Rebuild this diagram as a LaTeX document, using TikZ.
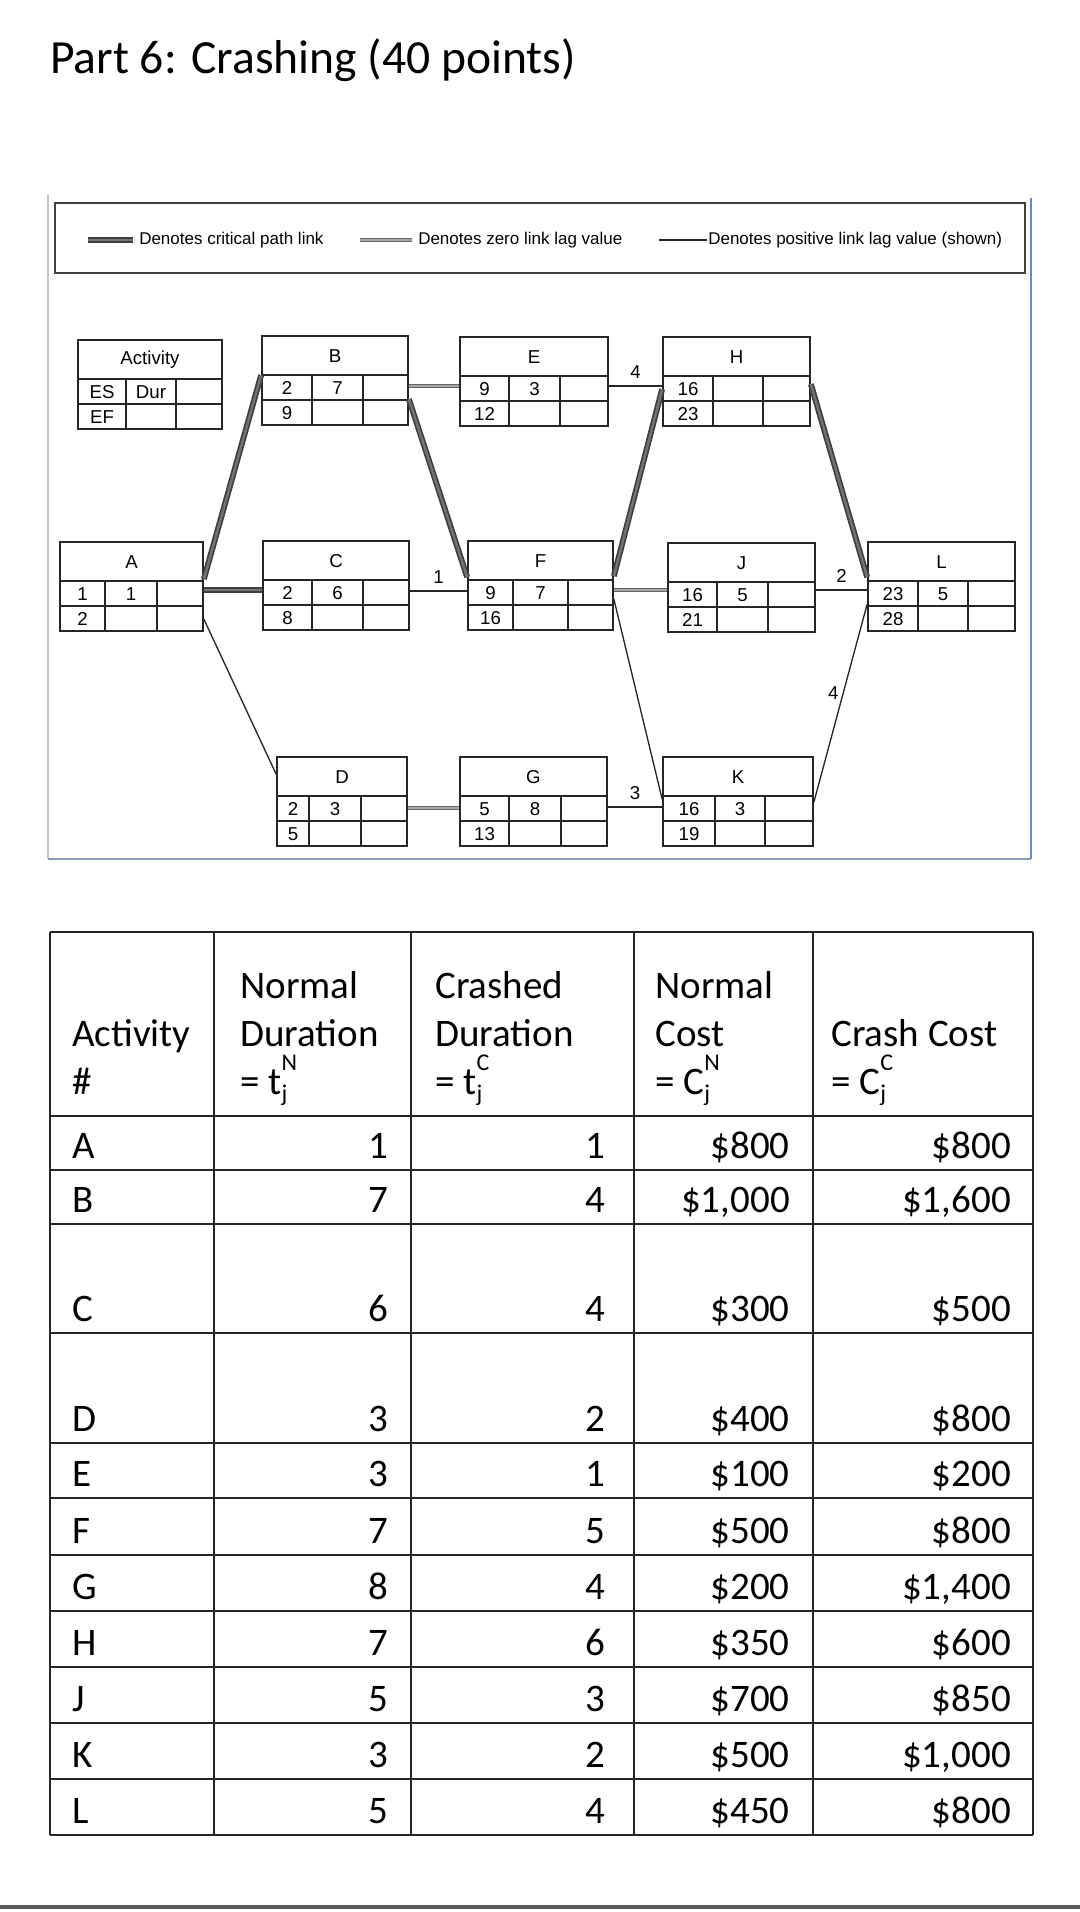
\documentclass[tikz,border=0pt]{standalone}
\usepackage{fontspec}
\setmainfont{Carlito}
\newfontfamily\netfont{Liberation Sans}
\usetikzlibrary{fit,calc}
\definecolor{framegray}{RGB}{140,155,180}
\definecolor{frameblue}{RGB}{90,140,210}

\def\nbparse#1,#2,#3,#4,#5\relax{\def\nbXL{#1}\def\nbCA{#2}\def\nbCB{#3}\def\nbXR{#4}\def\nbYT{#5}}
\newcommand\netbox[6]{%
  \nbparse#2\relax
  \node[fit={(\nbXL,\nbYT) (\nbXR,{\nbYT+89})}, boxline, inner sep=0pt] (#1) {};
  \draw[boxline] (\nbXL,{\nbYT+39}) -- (\nbXR,{\nbYT+39})
                 (\nbXL,{\nbYT+64}) -- (\nbXR,{\nbYT+64})
                 (\nbCA,{\nbYT+39}) -- (\nbCA,{\nbYT+89})
                 (\nbCB,{\nbYT+39}) -- (\nbCB,{\nbYT+89});
  \node[lbl] (#1-n) at ({(\nbXL+\nbXR)/2},{\nbYT+20}) {#3};
  \node[lbl] (#1-es) at ({(\nbXL+\nbCA)/2},{\nbYT+52}) {#4};
  \node[lbl] (#1-du) at ({(\nbCA+\nbCB)/2},{\nbYT+52}) {#5};
  \node[lbl] (#1-ef) at ({(\nbXL+\nbCA)/2},{\nbYT+77}) {#6};
}
\newcommand\trow[6]{%
  \node[tl] (t#2a) at (72,#1) {#2};
  \node[tr] (t#2b) at (389,#1) {#3};
  \node[tr] (t#2c) at (606,#1) {#4};
  \node[tr] (t#2d) at (790,#1) {#5};
  \node[tr] (t#2e) at (1011,#1) {#6};
}
\newcommand\tsub[2]{#1\smash{\rlap{\raisebox{-0.4ex}{\fontsize{18}{20}\selectfont j}}\raisebox{1.25ex}{\fontsize{18}{20}\selectfont #2}}}

\begin{document}
\begin{tikzpicture}[x=0.75pt,y=-0.75pt,
  tl/.style={anchor=base west, inner sep=0pt, font=\fontsize{29.25}{35}\selectfont},
  tr/.style={anchor=base east, inner sep=0pt, font=\fontsize{29.25}{35}\selectfont},
  grid/.style={draw=black!85, line width=1.4pt},
  boxline/.style={draw=black!85, line width=1.3pt},
  lbl/.style={font=\netfont\fontsize{14}{16}\selectfont, inner sep=0pt},
  lag/.style={font=\netfont\fontsize{14}{16}\selectfont, inner sep=0pt},
  legtext/.style={font=\netfont\fontsize{12.75}{15}\selectfont, inner sep=0pt, anchor=west},
  critlink/.style={draw=black!75, line width=1.3pt, double=black!55, double distance=1.8pt},
  zerolink/.style={draw=black!60, line width=0.8pt, double=black!35, double distance=1pt},
  poslink/.style={draw=black!85, line width=1pt},
]
\useasboundingbox (0,0) rectangle (1080,1912);
\fill[white] (0,0) rectangle (1080,1912);

% title
\node[anchor=base west, inner sep=0pt, font=\fontsize{35.7}{42}\selectfont] (title) at (50,74) {Part 6: Crashing (40 points)};

% figure frame
\draw[gray!45, line width=1pt] (48,195) -- (48,859);
\draw[framegray, line width=1.5pt] (48,859) -- (1031,859);
\draw[frameblue, line width=1.5pt] (1031,198) -- (1031,859);

% legend
\node[fit={(55,203) (1025,273)}, draw=black!75, line width=1.5pt, inner sep=0pt] (legend) {};
\coordinate (s1a) at (88,240);  \coordinate (s1b) at (133,240);
\coordinate (s2a) at (360,240); \coordinate (s2b) at (412,240);
\coordinate (s3a) at (659,240); \coordinate (s3b) at (707,240);
\draw[critlink] (s1a) -- (s1b);
\draw[zerolink] (s2a) -- (s2b);
\draw[poslink] (s3a) -- (s3b);
\node[legtext] (lt1) at (139,240) {Denotes critical path link};
\node[legtext] (lt2) at (418,240) {Denotes zero link lag value};
\node[legtext] (lt3) at (708,240) {Denotes positive link lag value (shown)};

% activity boxes
\netbox{key}{78,126,176,222,340}{Activity}{ES}{Dur}{EF}
\netbox{B}{262,312,363,408,336}{B}{2}{7}{9}
\netbox{E}{460,509,560,608,337}{E}{9}{3}{12}
\netbox{H}{663,713,763,810,337}{H}{16}{}{23}
\netbox{A}{60,105,157,203,542}{A}{1}{1}{2}
\netbox{C}{263,312,363,409,541}{C}{2}{6}{8}
\netbox{F}{468,513,568,613,541}{F}{9}{7}{16}
\netbox{J}{668,717,768,815,543}{J}{16}{5}{21}
\netbox{L}{868,918,968,1015,542}{L}{23}{5}{28}
\netbox{D}{277,309,361,407,757}{D}{2}{3}{5}
\netbox{G}{460,509,561,607,757}{G}{5}{8}{13}
\netbox{K}{663,715,765,813,757}{K}{16}{3}{19}

% links
\draw[critlink] ($(A.north east)+(0,38)$) -- ($(B.north west)+(0,40)$);
\draw[critlink] ($(A.north east)+(0,49)$) -- ($(C.north west)+(0,50)$);
\draw[poslink]  ($(A.north east)+(0,78)$) -- ($(D.north west)+(0,18)$);
\draw[zerolink] ($(B.north east)+(0,51)$) -- ($(E.north west)+(0,50)$);
\draw[critlink] ($(B.north east)+(0,64)$) -- ($(F.north west)+(0,37)$);
\draw[poslink]  ($(C.north east)+(0,51)$) -- node[lag,above=5pt]{1} ($(F.north west)+(0,51)$);
\draw[poslink]  ($(E.north east)+(0,50)$) -- node[lag,above=5pt]{4} ($(H.north west)+(0,50)$);
\draw[critlink] ($(F.north east)+(0,36)$) -- ($(H.north west)+(0,53)$);
\draw[zerolink] ($(F.north east)+(0,50)$) -- ($(J.north west)+(0,48)$);
\draw[poslink]  ($(F.north east)+(0,59)$) -- ($(K.north west)+(0,43)$);
\draw[zerolink] ($(D.north east)+(0,52)$) -- ($(G.north west)+(0,52)$);
\draw[poslink]  ($(G.north east)+(0,51)$) -- node[lag,above=5pt]{3} ($(K.north west)+(0,51)$);
\draw[critlink] ($(H.north east)+(0,48)$) -- ($(L.north west)+(0,36)$);
\draw[poslink]  ($(J.north east)+(0,48)$) -- node[lag,above=5pt]{2} ($(L.north west)+(0,49)$);
\draw[poslink]  ($(K.north east)+(0,46)$) -- node[lag,left=3pt,pos=0.55]{4} ($(L.north west)+(0,63)$);

% table grid
\foreach \yy in {932,1116,1170,1224,1333,1443,1498,1555,1611,1667,1723,1779,1835}
  \draw[grid] (50,\yy) -- (1033,\yy);
\foreach \xx in {50,214,411,634,813,1033}
  \draw[grid] (\xx,932) -- (\xx,1835);

% header
\node[tl] (h2a) at (240,998) {Normal};
\node[tl] (h3a) at (435,998) {Crashed};
\node[tl] (h4a) at (655,998) {Normal};
\node[tl] (h1b) at (72,1046) {Activity};
\node[tl] (h2b) at (240,1046) {Duration};
\node[tl] (h3b) at (435,1046) {Duration};
\node[tl] (h4b) at (655,1046) {Cost};
\node[tl] (h5b) at (831,1046) {Crash Cost};
\node[tl] (h1c) at (72,1094) {\#};
\node[tl] (h2c) at (240,1094) {= \tsub{t}{N}};
\node[tl] (h3c) at (435,1094) {= \tsub{t}{C}};
\node[tl] (h4c) at (655,1094) {= \tsub{C}{N}};
\node[tl] (h5c) at (831,1094) {= \tsub{C}{C}};

% rows
\trow{1158}{A}{1}{1}{\$800}{\$800}
\trow{1212}{B}{7}{4}{\$1,000}{\$1,600}
\trow{1321}{C}{6}{4}{\$300}{\$500}
\trow{1431}{D}{3}{2}{\$400}{\$800}
\trow{1486}{E}{3}{1}{\$100}{\$200}
\trow{1543}{F}{7}{5}{\$500}{\$800}
\trow{1599}{G}{8}{4}{\$200}{\$1,400}
\trow{1655}{H}{7}{6}{\$350}{\$600}
\trow{1711}{J}{5}{3}{\$700}{\$850}
\trow{1767}{K}{3}{2}{\$500}{\$1,000}
\trow{1823}{L}{5}{4}{\$450}{\$800}

% page bottom rule
\draw[black!65, line width=2.5pt] (0,1907) -- (1080,1907);
\end{tikzpicture}
\end{document}
